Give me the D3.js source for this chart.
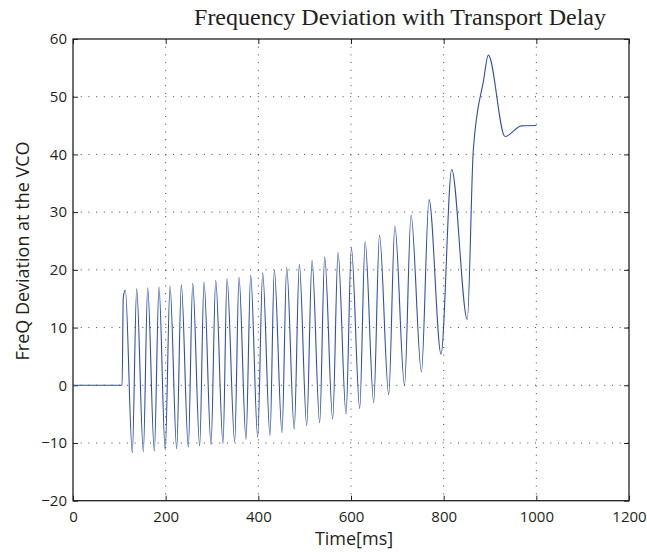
<!DOCTYPE html>
<html>
<head>
<meta charset="utf-8">
<script src="https://cdn.jsdelivr.net/npm/d3@7"></script>
<style>
  html, body { margin: 0; padding: 0; background: #fff; }
  .tick text { font-family: "Open Sans", sans-serif; font-size: 15px; fill: #231f20; }
  .axis-label { font-family: "Open Sans", sans-serif; font-size: 18px; fill: #231f20; }
  .chart-title { font-family: "Liberation Serif", "Times New Roman", serif; font-size: 24px; fill: #231f20; }
</style>
</head>
<body>
<div id="chart"></div>
<script>
const W = 647, H = 552;
const M = { top: 39, right: 18, bottom: 51.3, left: 73 };

// time [ms] of each turning point of the VCO frequency deviation
const timeMs = [
  0, 106, 108.5, 113,
  128, 137.4, 151.8, 161.2, 175.5, 185.6, 199, 209.4, 223.8, 233.8,
  248.9, 258.4, 273.4, 282.8, 297.9, 308, 323.8, 332.4, 349, 358.3,
  373.4, 383.5, 398.6, 409.4, 425.2, 434.5, 451.1, 461.2, 477.5, 488.5,
  504.4, 515.9, 532.4, 543.2, 560.5, 572, 589.3, 600.8, 618.8, 630.5,
  649, 661.5, 681.4, 694.7, 715.5, 729.6, 752, 768.4, 794.3, 817.3,
  851, 864, 886, 896.4, 932.5, 968, 1000
];
const deviation = [
  0, 0, 15.2, 16.5,
  -11.7, 16.7, -11.5, 16.9, -11.4, 17.0, -11.2, 17.2, -11.0, 17.4,
  -10.7, 17.65, -10.5, 17.9, -10.3, 18.2, -10.1, 18.5, -9.8, 18.7,
  -9.4, 19.05, -9.0, 19.5, -8.7, 19.95, -8.2, 20.4, -7.6, 20.95,
  -7.0, 21.6, -6.5, 22.2, -5.9, 23.0, -5.0, 23.8, -4.0, 24.9,
  -3.0, 26.0, -1.6, 27.6, 0.0, 29.5, 2.3, 32.2, 5.4, 37.4,
  11.4, 40.8, 52.8, 57.2, 43.1, 44.95, 45.0
];

const xTicks = [0, 200, 400, 600, 800, 1000, 1200];
const yTicks = [-20, -10, 0, 10, 20, 30, 40, 50, 60];

const innerW = W - M.left - M.right;
const innerH = H - M.top - M.bottom;

const svg = d3.select("#chart").append("svg")
    .attr("width", W)
    .attr("height", H)
  .append("g")
    .attr("transform", `translate(${M.left},${M.top})`);

const x = d3.scaleLinear().domain([0, 1200]).range([0, innerW]);
const y = d3.scaleLinear().domain([-20, 60]).range([innerH, 0]);
const fmt = d3.format("d");

// dotted grid
svg.append("g")
  .selectAll("line")
  .data(xTicks.slice(1, -1))
  .join("line")
    .attr("x1", d => x(d)).attr("x2", d => x(d))
    .attr("y1", 0).attr("y2", innerH)
    .attr("stroke", "#444").attr("stroke-width", 1)
    .attr("stroke-dasharray", "1,6.7");

svg.append("g")
  .selectAll("line")
  .data(yTicks.slice(1, -1))
  .join("line")
    .attr("x1", 0).attr("x2", innerW)
    .attr("y1", d => y(d)).attr("y2", d => y(d))
    .attr("stroke", "#444").attr("stroke-width", 1)
    .attr("stroke-dasharray", "1,6.7");

// axes, ticks pointing inward on all four sides
svg.append("g")
  .attr("transform", `translate(0,${innerH})`)
  .call(d3.axisBottom(x).tickValues(xTicks).tickFormat(fmt).tickSize(-5).tickPadding(11))
  .call(g => g.select(".domain").remove());

svg.append("g")
  .call(d3.axisLeft(y).tickValues(yTicks).tickFormat(fmt).tickSize(-5).tickPadding(6))
  .call(g => g.select(".domain").remove());

svg.append("g")
  .call(d3.axisTop(x).tickValues(xTicks).tickSize(-5).tickFormat(""))
  .call(g => g.select(".domain").remove());

svg.append("g")
  .attr("transform", `translate(${innerW},0)`)
  .call(d3.axisRight(y).tickValues(yTicks).tickSize(-5).tickFormat(""))
  .call(g => g.select(".domain").remove());

svg.selectAll(".tick line").attr("stroke", "#231f20");

svg.append("rect")
  .attr("width", innerW)
  .attr("height", innerH)
  .attr("fill", "none")
  .attr("stroke", "#231f20")
  .attr("stroke-width", 1.3);

// signal
const series = timeMs.map((t, i) => [t, deviation[i]]);
const line = d3.line()
  .x(d => x(d[0]))
  .y(d => y(d[1]))
  .curve(d3.curveMonotoneX);

svg.append("path")
  .datum(series)
  .attr("fill", "none")
  .attr("stroke", "#3050a8")
  .attr("stroke-width", 1.1)
  .attr("d", line);

// labels
svg.append("text")
  .attr("class", "chart-title")
  .attr("x", 400 - M.left)
  .attr("y", 25 - M.top)
  .attr("text-anchor", "middle")
  .text("Frequency Deviation with Transport Delay");

svg.append("text")
  .attr("class", "axis-label")
  .attr("x", 354 - M.left)
  .attr("y", 545 - M.top)
  .attr("text-anchor", "middle")
  .text("Time[ms]");

svg.append("text")
  .attr("class", "axis-label")
  .attr("transform", "rotate(-90)")
  .attr("x", -(251 - M.top))
  .attr("y", 29 - M.left)
  .attr("text-anchor", "middle")
  .text("FreQ Deviation at the VCO");
</script>
</body>
</html>
